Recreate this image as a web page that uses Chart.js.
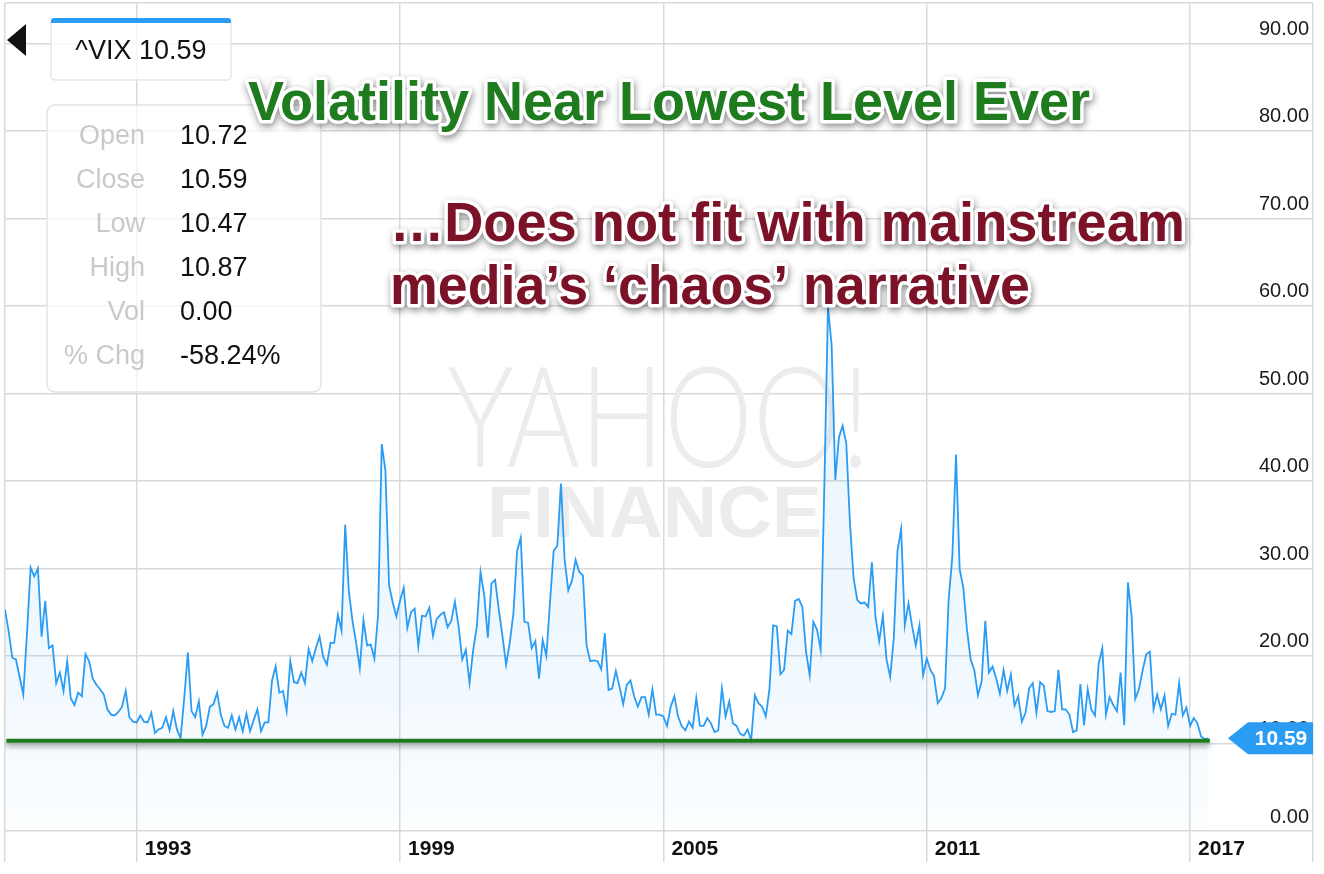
<!DOCTYPE html>
<html>
<head>
<meta charset="utf-8">
<title>^VIX</title>
<script src="https://cdn.jsdelivr.net/npm/chart.js@4.4.1/dist/chart.umd.min.js"></script>
<style>
  html, body { margin: 0; padding: 0; background: #fff; }
  #wrap { width: 1324px; height: 874px; position: relative; }
</style>
</head>
<body>
<div id="wrap"><canvas id="vixChart"></canvas></div>
<script>
// monthly closes of ^VIX, Jan 1990 .. Jun 2017
var firstYear = 1990;
var vixClose = [
  25.3, 22.8, 19.8, 19.6, 17.6, 15.6, 22.5, 30.1, 29.1, 30.0, 22.2, 26.3,
  20.9, 21.2, 16.9, 18.1, 16.0, 19.4, 15.1, 14.4, 15.8, 15.4, 20.2, 19.4,
  17.4, 16.7, 16.2, 15.6, 13.9, 13.3, 13.2, 13.6, 14.2, 16.0, 13.0, 12.5,
  12.4, 13.2, 12.5, 12.4, 13.5, 11.2, 11.6, 11.8, 13.0, 11.5, 13.7, 11.6,
  10.6, 15.2, 20.4, 13.7, 13.0, 14.8, 11.0, 12.0, 14.2, 14.5, 15.8, 13.3,
  12.0, 11.8, 13.2, 11.6, 13.0, 11.4, 13.4, 11.4, 12.7, 13.9, 11.4, 12.4,
  12.4, 17.2, 18.8, 15.8, 16.0, 13.7, 19.4, 17.0, 16.9, 18.1, 16.9, 20.8,
  19.4, 20.9, 22.2, 19.9, 19.0, 21.5, 21.5, 24.7, 22.9, 35.0, 27.4, 24.0,
  21.5, 18.6, 24.1, 21.2, 21.3, 19.7, 24.7, 44.2, 41.2, 28.1, 26.1, 24.5,
  26.3, 27.8, 23.2, 25.0, 25.4, 21.1, 24.6, 24.5, 25.5, 22.3, 24.2, 24.7,
  25.0, 23.3, 24.0, 26.2, 23.4, 19.6, 20.7, 16.9, 20.7, 23.4, 29.6, 27.0,
  22.1, 28.3, 28.7, 25.3, 22.3, 19.0, 21.5, 24.9, 32.0, 33.5, 23.9, 23.8,
  20.9, 21.7, 17.4, 21.8, 20.0, 26.1, 32.0, 32.6, 39.7, 31.0, 27.5, 28.6,
  31.0, 29.6, 29.2, 21.2, 19.4, 19.5, 19.4, 18.5, 22.6, 16.1, 16.3, 18.3,
  16.5, 14.5, 16.7, 17.2, 15.4, 14.2, 15.3, 15.3, 13.3, 16.2, 13.3, 13.3,
  13.1, 12.0, 14.2, 15.4, 13.1, 12.0, 11.5, 12.5, 11.8, 15.2, 12.0, 12.0,
  12.9, 12.3, 11.3, 11.5, 16.3, 13.1, 14.8, 12.3, 12.0, 11.1, 10.9, 11.6,
  10.4, 15.5, 14.6, 14.2, 13.1, 16.2, 23.5, 23.4, 17.9, 18.4, 22.9, 22.5,
  26.3, 26.5, 25.6, 20.5, 17.8, 23.9, 23.0, 20.7, 39.4, 59.9, 55.5, 40.1,
  45.0, 46.3, 44.3, 35.2, 28.9, 26.4, 26.0, 26.1, 25.6, 30.7, 24.4, 21.7,
  24.6, 19.6, 17.6, 22.1, 32.0, 34.5, 23.5, 26.0, 23.4, 21.2, 23.5, 17.8,
  19.7, 18.4, 17.7, 14.6, 15.2, 16.3, 26.5, 31.4, 43.0, 29.9, 27.8, 23.0,
  19.6, 18.4, 15.5, 17.1, 24.0, 18.1, 18.8, 17.4, 15.7, 18.4, 16.0, 17.9,
  14.3, 15.4, 12.5, 13.5, 16.3, 16.9, 13.5, 17.0, 16.6, 13.7, 13.6, 13.7,
  18.4, 13.9, 13.9, 13.3, 11.3, 11.5, 16.8, 12.1, 16.2, 13.9, 13.2, 19.1,
  20.9, 13.3, 15.3, 14.4, 13.7, 18.1, 12.1, 28.4, 24.6, 15.1, 16.2, 18.3,
  20.2, 20.5, 13.9, 15.6, 13.9, 15.5, 12.0, 13.4, 13.3, 16.9, 13.2, 14.1,
  12.0, 12.9, 12.3, 10.8, 10.5, 10.59
];
var yearTicks = [1993, 1999, 2005, 2011, 2017];
var priceTicks = [0, 10, 20, 30, 40, 50, 60, 70, 80, 90];
var xRange = [1990, 2019.8];
var yMax = 94.6;
var lowLevel = 10.3;              // green "lowest level" line
var lowSpan = [1990.03, 2017.45];
var ticker = '^VIX';
var lastClose = 10.59;
var quoteLabels = ['Open', 'Close', 'Low', 'High', 'Vol', '% Chg'];
var quoteValues = ['10.72', '10.59', '10.47', '10.87', '0.00', '-58.24%'];
var headline = 'Volatility Near Lowest Level Ever';
var subline = ['\u2026Does not fit with mainstream', 'media\u2019s \u2018chaos\u2019 narrative'];

var blue = '#2b9cf3';
var gridColor = '#d9d9d9';
var sans = '"Liberation Sans", Arial, Helvetica, sans-serif';

var vixPoints = vixClose.map(function (v, i) {
  return { x: firstYear + i / 12, y: v };
});
var lowPoints = [{ x: lowSpan[0], y: lowLevel }, { x: lowSpan[1], y: lowLevel }];

// draw text squeezed/stretched to a given width
function fitted(ctx, text, x, y, width, outline) {
  var w = ctx.measureText(text).width;
  ctx.save();
  ctx.translate(x, y);
  ctx.scale(width / w, 1);
  if (outline) {
    ctx.lineJoin = 'round';
    ctx.shadowColor = 'rgba(0,0,0,0.45)';
    ctx.shadowBlur = 7;
    ctx.shadowOffsetX = 1;
    ctx.shadowOffsetY = 3;
    ctx.strokeStyle = '#fff';
    ctx.lineWidth = 7;
    ctx.strokeText(text, 0, 0);
    ctx.shadowColor = 'transparent';
  }
  ctx.fillText(text, 0, 0);
  ctx.restore();
}

var decorations = {
  id: 'decorations',
  beforeDatasetsDraw: function (chart) {
    var ctx = chart.ctx;
    ctx.save();
    ctx.fillStyle = '#ececed';
    ctx.textBaseline = 'alphabetic';
    ctx.font = '300 140px Lato, ' + sans;
    fitted(ctx, 'YAHOO!', 447, 467, 423);
    ctx.font = 'bold 72px ' + sans;
    fitted(ctx, 'FINANCE', 487, 537, 335);
    ctx.restore();
  },
  beforeDatasetDraw: function (chart, args) {
    if (args.index !== 1) return;
    var ctx = chart.ctx;
    ctx.save();
    ctx.shadowColor = 'rgba(0,0,0,0.35)';
    ctx.shadowBlur = 5;
    ctx.shadowOffsetY = 4;
  },
  afterDatasetDraw: function (chart, args) {
    if (args.index !== 1) return;
    chart.ctx.restore();
  },
  afterDraw: function (chart) {
    var ctx = chart.ctx;
    var area = chart.chartArea;
    var ys = chart.scales.y;
    ctx.save();

    // price labels, right aligned inside the plot
    ctx.fillStyle = '#1a1a1a';
    ctx.font = '20px ' + sans;
    ctx.textAlign = 'right';
    ctx.textBaseline = 'middle';
    priceTicks.forEach(function (v) {
      ctx.fillText(v.toFixed(2), area.right - 4, ys.getPixelForValue(v) - 14);
    });

    // last price tag
    var py = ys.getPixelForValue(lastClose);
    ctx.fillStyle = blue;
    ctx.beginPath();
    ctx.moveTo(area.right - 85, py);
    ctx.lineTo(area.right - 65, py - 16);
    ctx.lineTo(area.right, py - 16);
    ctx.lineTo(area.right, py + 16);
    ctx.lineTo(area.right - 65, py + 16);
    ctx.closePath();
    ctx.fill();
    ctx.fillStyle = '#fff';
    ctx.font = 'bold 21px ' + sans;
    ctx.textAlign = 'center';
    ctx.fillText(lastClose.toFixed(2), area.right - 32, py + 1);

    // back arrow
    ctx.fillStyle = '#111';
    ctx.beginPath();
    ctx.moveTo(7, 40);
    ctx.lineTo(26, 24);
    ctx.lineTo(26, 56);
    ctx.closePath();
    ctx.fill();

    // ticker box
    ctx.fillStyle = 'rgba(255,255,255,0.75)';
    ctx.strokeStyle = '#e6e6e6';
    ctx.lineWidth = 1.5;
    ctx.beginPath();
    ctx.roundRect(51, 19, 180, 61, 4);
    ctx.fill();
    ctx.stroke();
    ctx.fillStyle = blue;
    ctx.beginPath();
    ctx.roundRect(51, 18, 180, 5, [3, 3, 0, 0]);
    ctx.fill();
    ctx.fillStyle = '#111';
    ctx.font = '27px ' + sans;
    ctx.textAlign = 'center';
    ctx.fillText(ticker + ' ' + lastClose.toFixed(2), 141, 52);

    // quote box
    ctx.fillStyle = 'rgba(255,255,255,0.72)';
    ctx.strokeStyle = '#e4e4e4';
    ctx.beginPath();
    ctx.roundRect(47, 105, 274, 287, 8);
    ctx.fill();
    ctx.stroke();
    ctx.font = '27px ' + sans;
    quoteLabels.forEach(function (label, i) {
      var y = 137 + i * 44;
      ctx.textAlign = 'right';
      ctx.fillStyle = '#c9c9c9';
      ctx.fillText(label, 145, y);
      ctx.textAlign = 'left';
      ctx.fillStyle = '#111';
      ctx.fillText(quoteValues[i], 180, y);
    });

    // headlines
    ctx.textAlign = 'left';
    ctx.textBaseline = 'alphabetic';
    ctx.font = 'bold 55px ' + sans;
    ctx.fillStyle = '#1e7b1e';
    fitted(ctx, headline, 248, 120, 842, true);
    ctx.fillStyle = '#7c1227';
    fitted(ctx, subline[0], 390, 241, 795, true);
    fitted(ctx, subline[1], 390, 304, 640, true);

    ctx.restore();
  }
};

new Chart(document.getElementById('vixChart'), {
  type: 'line',
  data: {
    datasets: [{
      label: ticker,
      data: vixPoints,
      order: 1,
      borderColor: blue,
      borderWidth: 1.8,
      pointRadius: 0,
      tension: 0,
      fill: 'start',
      backgroundColor: function (c) {
        var area = c.chart.chartArea;
        if (!area) return 'rgba(43,156,243,0.06)';
        var g = c.chart.ctx.createLinearGradient(0, area.top, 0, area.bottom);
        g.addColorStop(0, 'rgba(43,156,243,0.11)');
        g.addColorStop(0.8, 'rgba(43,156,243,0.07)');
        g.addColorStop(1, 'rgba(43,156,243,0.015)');
        return g;
      }
    }, {
      label: 'lowest level',
      data: lowPoints,
      order: 0,
      borderColor: '#1e7b1e',
      borderWidth: 4,
      pointRadius: 0,
      fill: false
    }]
  },
  options: {
    responsive: true,
    maintainAspectRatio: false,
    animation: false,
    events: [],
    layout: { padding: { left: 5, top: 3, right: 11, bottom: 12 } },
    plugins: {
      legend: { display: false },
      tooltip: { enabled: false }
    },
    scales: {
      x: {
        type: 'linear',
        position: 'bottom',
        min: xRange[0],
        max: xRange[1],
        afterBuildTicks: function (scale) {
          scale.ticks = [xRange[0]].concat(yearTicks, [xRange[1]]).map(function (v) {
            return { value: v };
          });
        },
        afterFit: function (scale) { scale.height = 31; },
        border: { display: false },
        grid: { color: gridColor, lineWidth: 1.5, drawTicks: true, tickLength: 31 },
        ticks: {
          autoSkip: false,
          maxRotation: 0,
          minRotation: 0,
          align: 'start',
          labelOffset: 8,
          padding: -25,
          color: '#111',
          font: { family: sans, size: 21, weight: 'bold' },
          callback: function (v) {
            return yearTicks.indexOf(v) >= 0 ? String(v) : '';
          }
        }
      },
      y: {
        position: 'right',
        min: 0,
        max: yMax,
        afterBuildTicks: function (scale) {
          scale.ticks = priceTicks.concat([yMax]).map(function (v) {
            return { value: v };
          });
        },
        afterFit: function (scale) { scale.width = 0; },
        border: { display: false },
        grid: { color: gridColor, lineWidth: 1.5, drawTicks: false },
        ticks: { display: false }
      }
    }
  },
  plugins: [decorations]
});
</script>
</body>
</html>
